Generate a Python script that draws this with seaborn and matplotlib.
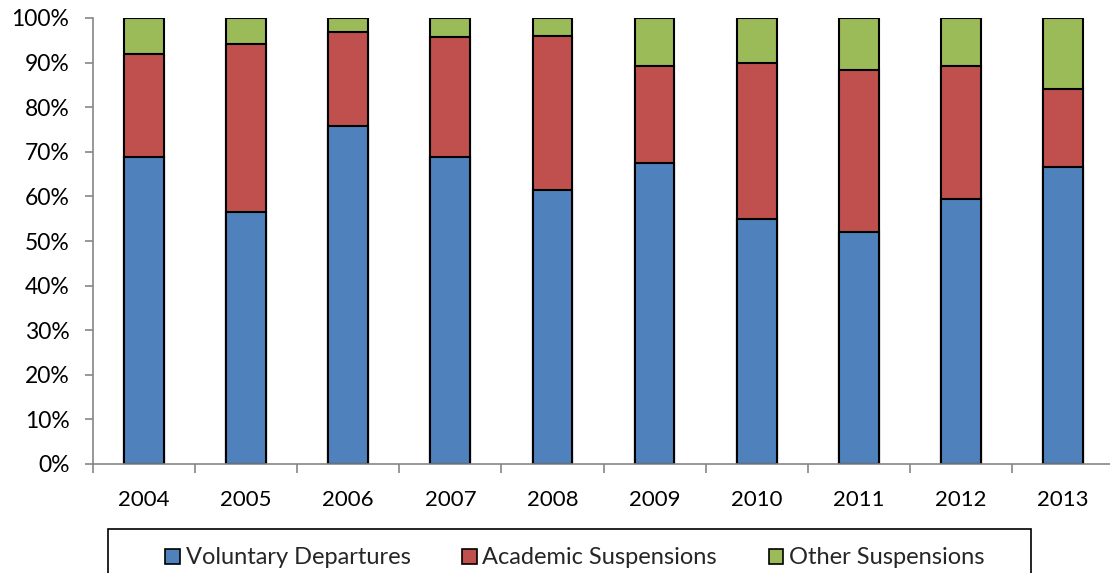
import numpy as np
import pandas as pd
import matplotlib
matplotlib.use('Agg')
import matplotlib.pyplot as plt
from matplotlib.patches import Rectangle
from matplotlib.ticker import FixedLocator, PercentFormatter
import seaborn as sns

years = ['2004', '2005', '2006', '2007', '2008', '2009', '2010', '2011', '2012', '2013']
voluntary = [68.9, 56.5, 75.8, 68.9, 61.4, 67.5, 55.0, 52.0, 59.4, 66.7]
academic = [23.0, 37.7, 21.1, 26.8, 34.6, 21.7, 35.0, 36.3, 29.8, 17.4]
other = [8.1, 5.8, 3.1, 4.3, 4.0, 10.8, 10.0, 11.7, 10.8, 15.9]
series = ['Voluntary Departures', 'Academic Suspensions', 'Other Suspensions']
colors = ['#4F81BD', '#C0504D', '#9BBB59']

sns.set_style('white')
plt.rcParams['font.family'] = ['Lato', 'DejaVu Sans']

df = pd.DataFrame({'year': years, 'v': voluntary, 'a': academic, 'o': other})
df['va'] = df['v'] + df['a']
df['vao'] = df['va'] + df['o']

fig = plt.figure(figsize=(11.1, 5.73), dpi=100)
ax = fig.add_axes([93 / 1110, 109 / 573, 1021 / 1110, 446 / 573])

# stacked bars: draw cumulative totals from the top layer down
for col, c in zip(['vao', 'va', 'v'], colors[::-1]):
    sns.barplot(data=df, x='year', y=col, color=c, width=0.39,
                edgecolor='black', linewidth=1.5, ax=ax, saturation=1)

ax.set_xlim(-0.5, 9.5)
ax.set_ylim(0, 100)
ax.set_xlabel('')
ax.set_ylabel('')
ax.set_yticks(np.arange(0, 101, 10))
ax.yaxis.set_major_formatter(PercentFormatter(decimals=0))

grey = '#868686'
for s in ['top', 'right']:
    ax.spines[s].set_visible(False)
for s in ['left', 'bottom']:
    ax.spines[s].set_color(grey)
    ax.spines[s].set_linewidth(1.2)

ax.xaxis.set_minor_locator(FixedLocator(np.arange(-0.5, 10, 1)))
ax.tick_params(axis='x', which='major', length=0, pad=19, labelsize=16, colors='black')
ax.tick_params(axis='x', which='minor', length=6.5, width=1.2, color=grey, direction='out', bottom=True)
ax.tick_params(axis='y', which='major', length=6, width=1.2, color=grey, direction='out',
               left=True, pad=11, labelsize=16.5, labelcolor='black')

# legend
handles = [Rectangle((0, 0), 1, 1, facecolor=c, edgecolor='black', linewidth=1.2) for c in colors]
fig.legend(handles, series, loc='center', bbox_to_anchor=(575 / 1110, 1 - 558 / 573), ncol=3,
           frameon=False, fontsize=17, handlelength=0.6, handleheight=0.6,
           handletextpad=0.25, columnspacing=2.2, borderpad=0)
fig.patches.append(Rectangle((108 / 1110, -0.05), 923 / 1110, 0.05 + 44 / 573,
                             transform=fig.transFigure, fill=False, edgecolor='black',
                             linewidth=1.2, zorder=0))

fig.savefig('out.png', dpi=100)
